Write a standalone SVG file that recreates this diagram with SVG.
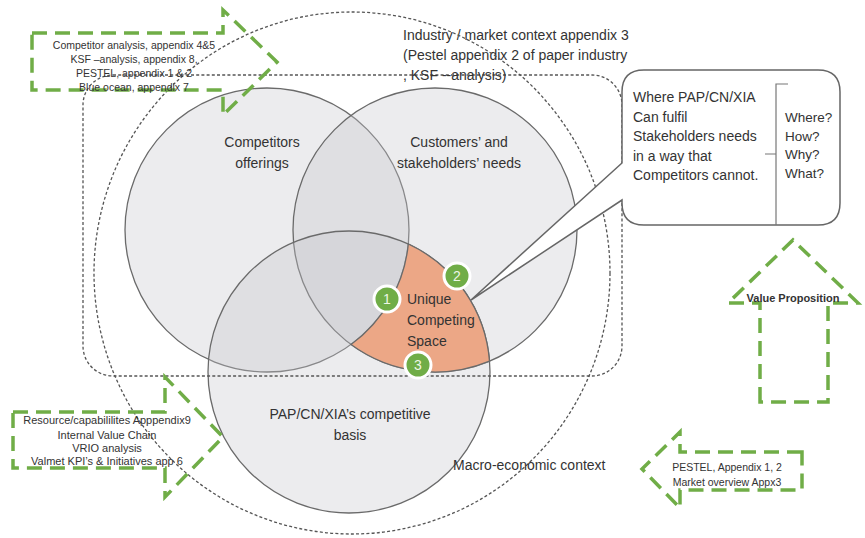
<svg xmlns="http://www.w3.org/2000/svg" width="865" height="538" viewBox="0 0 865 538">
  <defs>
    <style>
      .venn { fill: #c6c6cb; fill-opacity: 0.33; stroke: #6a6a6a; stroke-width: 1.3; }
      .dotted { fill: none; stroke: #555; stroke-width: 1.3; stroke-dasharray: 3 2.2; }
      .arrow { fill: none; stroke: #70ad47; stroke-width: 3.5; stroke-dasharray: 15 8; stroke-linejoin: miter; }
      .lbl { font-family: "Liberation Sans", Arial, sans-serif; font-size: 14px; fill: #333; }
      .small { font-family: "Liberation Sans", Arial, sans-serif; font-size: 10.5px; fill: #333; text-anchor: middle; }
      .num { fill: #70ad47; stroke: #fff; stroke-width: 3; }
      .numtxt { font-family: "Liberation Sans", Arial, sans-serif; font-size: 14px; fill: #eef6e6; text-anchor: middle; }
      .mid { text-anchor: middle; }
    </style>
  </defs>

  <rect width="865" height="538" fill="#fff"/>

  <!-- Venn circles -->
  <g id="competitors">
    <circle class="venn" cx="267" cy="230" r="142"/>
    <text class="lbl mid" x="262" y="147">Competitors</text>
    <text class="lbl mid" x="262" y="168">offerings</text>
  </g>
  <g id="customers">
    <circle class="venn" cx="435" cy="230" r="142"/>
    <text class="lbl mid" x="459" y="147">Customers’ and</text>
    <text class="lbl mid" x="459" y="168">stakeholders’ needs</text>
  </g>
  <g id="basis">
    <circle class="venn" cx="349" cy="372" r="141"/>
    <text class="lbl mid" x="350" y="419">PAP/CN/XIA’s competitive</text>
    <text class="lbl mid" x="350" y="440">basis</text>
  </g>

  <!-- Unique competing space: customers ∩ basis − competitors -->
  <g id="unique-space">
    <path d="M408.3,244 A141,141 0 0 1 489.5,361.1 A142,142 0 0 1 351,344.5 A142,142 0 0 0 408.3,244 Z" fill="#eca786" stroke="#6a6a6a" stroke-width="1.3"/>
    <text class="lbl" x="407" y="304">Unique</text>
    <text class="lbl" x="407" y="325">Competing</text>
    <text class="lbl" x="407" y="346">Space</text>
  </g>

  <!-- Context boundaries -->
  <g id="industry-context">
    <rect class="dotted" x="83" y="75" width="539" height="301" rx="30"/>
    <text class="lbl" x="403" y="40">Industry / market context appendix 3</text>
    <text class="lbl" x="403" y="60">(Pestel appendix 2 of paper industry</text>
    <text class="lbl" x="403" y="80">, KSF --analysis)</text>
  </g>
  <g id="macro-context">
    <ellipse class="dotted" cx="352" cy="273" rx="258" ry="261"/>
    <text class="lbl" x="453" y="470">Macro-economic context</text>
  </g>

  <!-- Numbered markers -->
  <g id="marker-1"><circle class="num" cx="387" cy="299" r="13"/><text class="numtxt" x="387" y="304">1</text></g>
  <g id="marker-2"><circle class="num" cx="457" cy="276" r="13"/><text class="numtxt" x="457" y="281">2</text></g>
  <g id="marker-3"><circle class="num" cx="418" cy="365" r="13"/><text class="numtxt" x="418" y="370">3</text></g>

  <!-- Callout -->
  <g id="callout">
    <path d="M644,70 H818 Q840,70 840,92 V203 Q840,225 818,225 H644 Q622,225 622,203 V200 L471,300 L622,163 V92 Q622,70 644,70 Z" fill="#fff" stroke="#666" stroke-width="1.5"/>
    <text class="lbl" x="633" y="102">Where PAP/CN/XIA</text>
    <text class="lbl" x="633" y="122">Can fulfil</text>
    <text class="lbl" x="633" y="141">Stakeholders needs</text>
    <text class="lbl" x="633" y="161">in a way that</text>
    <text class="lbl" x="633" y="180">Competitors cannot.</text>
    <path d="M788,84 H776 V225 M776,154 H765" fill="none" stroke="#777" stroke-width="1.2"/>
    <text class="lbl" x="785" y="122" style="font-size:13.5px">Where?</text>
    <text class="lbl" x="785" y="141" style="font-size:13.5px">How?</text>
    <text class="lbl" x="785" y="159" style="font-size:13.5px">Why?</text>
    <text class="lbl" x="785" y="178" style="font-size:13.5px">What?</text>
  </g>

  <!-- Input arrows -->
  <g id="arrow-competitor">
    <path class="arrow" d="M32,33 H223 V10 L277,62 L223,115 V90 H32 Z"/>
    <text class="small" x="134" y="49">Competitor analysis, appendix 4&amp;5</text>
    <text class="small" x="134" y="63">KSF –analysis, appendix 8,</text>
    <text class="small" x="134" y="77">PESTEL, appendix 1 &amp; 2</text>
    <text class="small" x="134" y="91">Blue ocean, appendix 7</text>
  </g>
  <g id="arrow-resource">
    <path class="arrow" d="M13,412 H165 V377 L223,437 L165,497 V468 H13 Z"/>
    <text class="small" x="107" y="424" style="font-size:11px">Resource/capabililites Apppendix9</text>
    <text class="small" x="107" y="439" style="font-size:11px">Internal Value Chain</text>
    <text class="small" x="107" y="452" style="font-size:11px">VRIO analysis</text>
    <text class="small" x="107" y="465" style="font-size:11px">Valmet KPI’s &amp; Initiatives app 6</text>
  </g>
  <g id="arrow-pestel">
    <path class="arrow" d="M802,452 H680 V432 L642,469 L680,508 V490 H802 Z"/>
    <text class="small" x="727" y="471">PESTEL, Appendix 1, 2</text>
    <text class="small" x="727" y="486">Market overview Appx3</text>
  </g>
  <g id="arrow-value">
    <path class="arrow" d="M760,402 V303 H728 L793,240 L858,303 H828 V402 Z"/>
    <text class="small" x="793" y="302" style="font-weight:bold;font-size:11px">Value Proposition</text>
  </g>
</svg>
